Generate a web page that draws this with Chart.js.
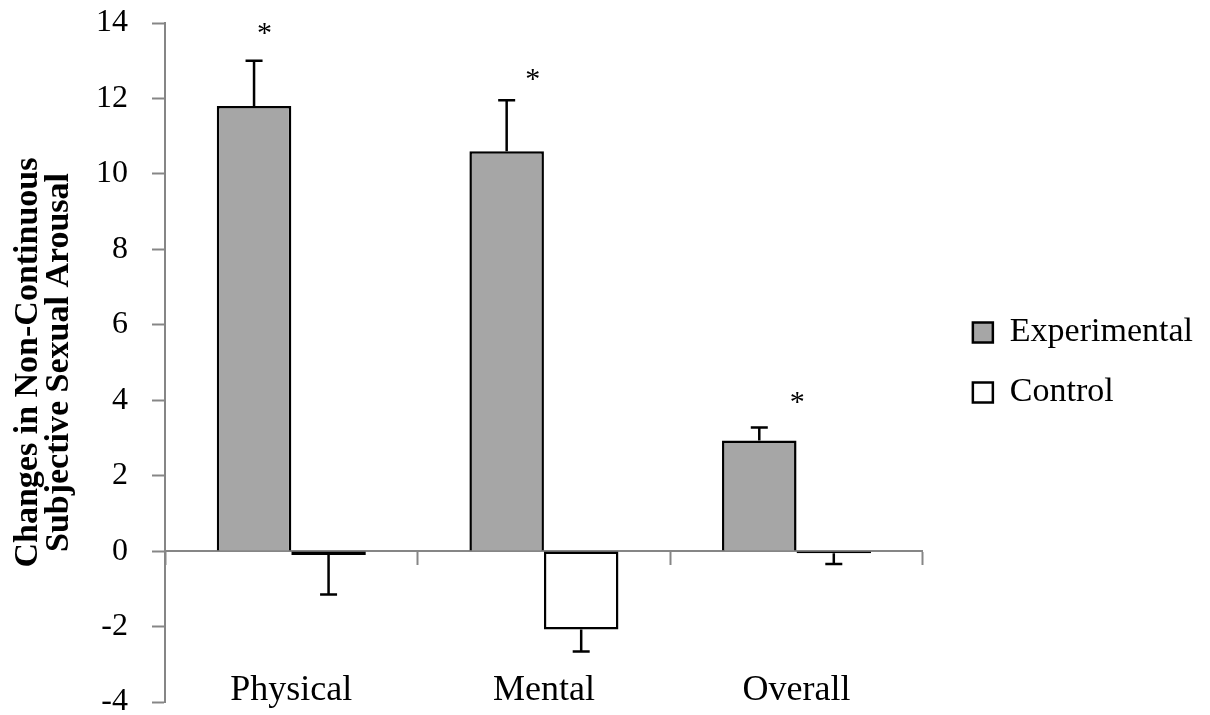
<!DOCTYPE html>
<html><head><meta charset="utf-8">
<script src="https://cdn.jsdelivr.net/npm/chart.js@4.4.1/dist/chart.umd.min.js"></script>
<style>html,body{margin:0;padding:0;background:#fff}</style>
</head><body>
<canvas id="c" width="1210" height="715"></canvas>
<script>
const categories = ['Physical', 'Mental', 'Overall'];
const experimental = [11.8, 10.6, 2.93];
const experimentalErr = [1.2, 1.35, 0.35];
const control = [-0.1, -2.08, -0.06];
const controlErr = [1.05, 0.58, 0.28];
const significance = ['*', '*', '*'];
const starValues = [13.75, 12.55, 3.97];
const yTickLabels = ['-4', '-2', '0', '2', '4', '6', '8', '10', '12', '14'];

const AXIS = '#868686';
const SERIF = '"Liberation Serif", "Times New Roman", serif';
const starShift = [0.14, 0.35, 0.51]; // in bar widths, style only

const errorPlugin = {
  id: 'errs',
  afterDatasetsDraw(chart) {
    const ctx = chart.ctx;
    const ys = chart.scales.y;
    chart.data.datasets.forEach((ds, di) => {
      const meta = chart.getDatasetMeta(di);
      meta.data.forEach((bar, i) => {
        const v = ds.data[i], e = ds.errors[i];
        const dir = v >= 0 ? 1 : -1;
        const y1 = ys.getPixelForValue(v);
        const y2 = ys.getPixelForValue(v + dir * e);
        ctx.save();
        ctx.strokeStyle = '#000';
        ctx.lineWidth = 2.5;
        ctx.beginPath();
        ctx.moveTo(bar.x, y1);
        ctx.lineTo(bar.x, y2);
        ctx.moveTo(bar.x - 8.5, y2);
        ctx.lineTo(bar.x + 8.5, y2);
        ctx.stroke();
        ctx.restore();
      });
      if (di === 0) {
        meta.data.forEach((bar, i) => {
          if (!significance[i]) return;
          ctx.save();
          ctx.fillStyle = '#000';
          ctx.font = '30px ' + SERIF;
          ctx.textAlign = 'center';
          ctx.textBaseline = 'middle';
          ctx.fillText(significance[i], bar.x + starShift[i] * bar.width, ys.getPixelForValue(starValues[i]) + 2);
          ctx.restore();
        });
      }
    });
  }
};

new Chart(document.getElementById('c'), {
  type: 'bar',
  data: {
    labels: categories,
    datasets: [
      { label: 'Experimental', data: experimental, errors: experimentalErr,
        backgroundColor: '#a6a6a6', borderColor: '#000', borderWidth: 2.5, borderSkipped: 'start' },
      { label: 'Control', data: control, errors: controlErr,
        backgroundColor: '#ffffff', borderColor: '#000', borderWidth: 2.5, borderSkipped: false }
    ]
  },
  options: {
    responsive: false,
    animation: false,
    layout: { padding: { left: 12, top: 23, right: 7, bottom: 13 } },
    datasets: { bar: { categoryPercentage: 0.59, barPercentage: 1.0 } },
    plugins: {
      tooltip: { enabled: false },
      legend: {
        position: 'right',
        maxWidth: 320,
        labels: { font: { family: SERIF, size: 34 }, color: '#000', boxWidth: 20, boxHeight: 20, padding: 26 }
      }
    },
    scales: {
      x: {
        type: 'category', position: { y: -4 }, offset: true,
        grid: { display: false, drawTicks: false, offset: true },
        border: { display: false },
        ticks: { font: { family: SERIF, size: 36 }, color: '#000', padding: -33 }
      },
      x2: {
        type: 'category', labels: categories, position: { y: 0 }, offset: true,
        grid: { drawOnChartArea: false, drawTicks: true, tickLength: 13, tickColor: AXIS, tickWidth: 2, offset: true },
        border: { color: AXIS, width: 2 },
        ticks: { display: false }
      },
      y: {
        min: -4, max: 14,
        afterBuildTicks(s) { s.ticks = yTickLabels.map(t => ({ value: Number(t) })); },
        afterFit(s) { s.width = 153; s.paddingTop = 0; s.paddingBottom = 0; },
        ticks: { font: { family: SERIF, size: 32 }, color: '#000', padding: 24,
                 callback: (v) => yTickLabels[yTickLabels.indexOf(String(v))] },
        grid: { drawOnChartArea: false, tickLength: 13, tickColor: AXIS, tickWidth: 2 },
        border: { color: AXIS, width: 2 },
        title: { display: true, text: ['Changes in Non-Continuous', 'Subjective Sexual Arousal'],
                 font: { family: SERIF, size: 34, weight: 'bold', lineHeight: 0.9 }, color: '#000',
                 padding: { top: 1, bottom: 0 } }
      },
      yR: {
        position: 'right', display: true,
        grid: { display: false }, border: { display: false }, ticks: { display: false },
        afterFit(s) { s.width = 24; s.paddingTop = 0; s.paddingBottom = 0; }
      }
    }
  },
  plugins: [errorPlugin]
});
</script>
</body></html>
